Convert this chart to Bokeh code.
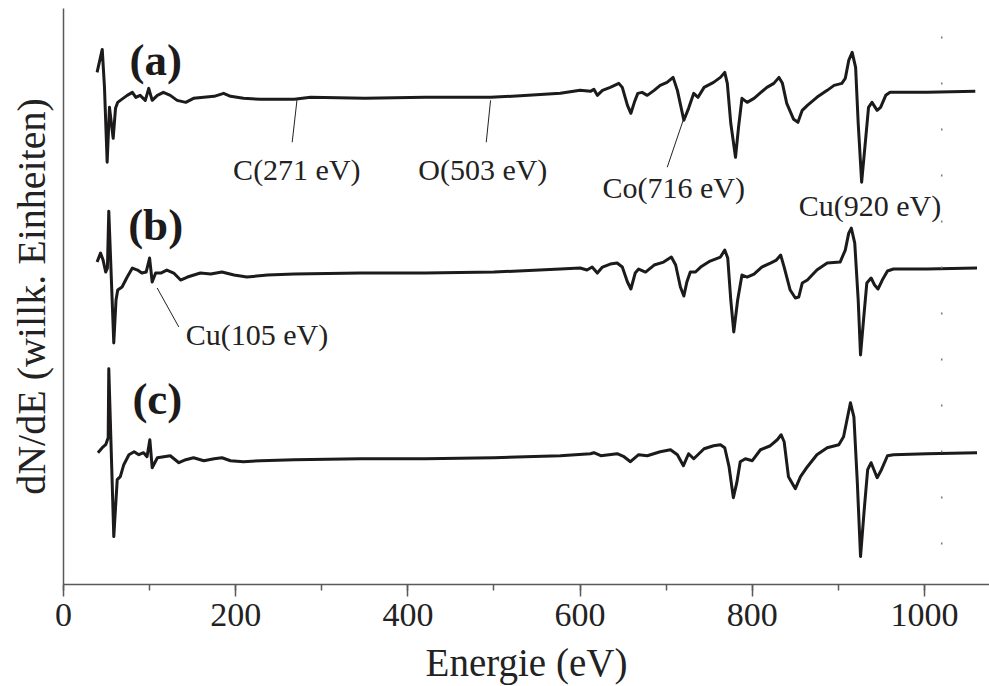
from bokeh.plotting import figure
from bokeh.models import Range1d, SingleIntervalTicker, FixedTicker, Label, Span
from bokeh.core.properties import value
from bokeh.embed import file_html
from bokeh.resources import INLINE

# ---- data (energy in eV, signal in arbitrary units incl. vertical offset) ----
x_a = [39, 45, 47.6, 50.7, 53.4, 57.7, 60.4, 63, 66, 74, 80, 84, 89, 95, 99, 103, 109, 116, 124, 132,
       142, 151, 163, 175, 186, 194, 209, 229, 268, 287, 350, 420, 496, 540, 577, 600, 612, 616, 620, 626,
       635, 645, 649, 655, 659, 663, 667, 672, 678, 686, 693, 701, 708, 713, 720.5, 726, 732, 737, 744, 755,
       763, 768, 771, 775, 780.5, 784, 788, 794, 802, 810, 817, 825, 831, 835, 840, 848, 853, 858, 864, 875,
       887, 895, 904, 908, 912, 916, 920, 923, 927, 931.5, 935, 939, 945, 949, 955, 960, 1003, 1059]
y_a = [513, 536, 498, 423, 478, 447, 477, 483, 485, 490, 493, 488, 490, 485, 497, 485, 490, 493, 490, 485,
       483, 487, 488, 489, 492, 489, 487, 486, 486, 488, 487, 488, 488, 490, 492, 495, 494, 496, 490, 495,
       498, 502, 498, 480, 472, 483, 492, 493, 490, 495, 500, 503, 508, 495, 465, 477, 492, 488, 498, 503,
       508, 513, 502, 462, 428, 458, 487, 483, 487, 493, 498, 502, 508, 502, 482, 466, 463, 475, 480, 488,
       495, 500, 502, 507, 525, 533, 518, 462, 403, 445, 478, 483, 475, 478, 490, 493, 493, 494]

x_b = [39, 43, 46, 49, 51, 52.6, 58.4, 61, 63, 68, 74, 80, 86, 91, 96, 100, 103, 107, 113, 120,
       128, 136, 144, 159, 171, 184, 198, 213, 237, 268, 345, 420, 500, 577, 600, 608, 614, 620, 626, 635,
       643, 649, 655, 659, 664, 668, 676, 686, 697, 706, 711, 716.5, 720.5, 724, 728, 734, 740, 751, 763, 768,
       771.5, 775, 778.5, 783, 788, 794, 802, 811, 821, 828, 833, 837, 844, 850, 854, 858, 864, 875, 887, 902,
       908, 912, 915, 919, 923, 925.7, 929.5, 933, 938, 942, 946, 951, 957, 964, 1003, 1061]
y_b = [323, 332, 325, 313, 317, 374, 242, 285, 295, 298, 308, 317, 315, 312, 313, 327, 303, 312, 312, 315,
       312, 305, 308, 312, 311, 313, 310, 308, 310, 311, 312, 312, 313, 316, 317, 315, 318, 312, 318, 321,
       322, 318, 303, 296, 312, 316, 313, 320, 323, 328, 320, 298, 289, 303, 313, 313, 318, 324, 328, 335,
       327, 285, 253, 285, 310, 308, 311, 318, 322, 325, 330, 318, 295, 287, 288, 302, 305, 315, 322, 323,
       335, 352, 357, 342, 285, 230, 268, 302, 307, 300, 296, 305, 314, 316, 316, 317]

x_c = [40, 43, 45, 49, 51.9, 52.6, 58.4, 62.4, 66, 70, 76, 82, 87.5, 93, 97, 100.3, 103, 109, 116.5, 124,
       134, 142, 151, 163, 175, 184, 194, 209, 229, 268, 345, 420, 500, 577, 612, 616, 624, 643, 651, 658.5,
       668, 678, 693, 705, 713, 720, 726, 732, 744, 755, 763, 768, 773, 778, 782, 786, 792, 800, 809.5, 821,
       829, 833.5, 837, 842, 850, 856, 864, 875, 887, 900.5, 906, 910, 914, 918, 922, 925.7, 930, 934, 938, 945,
       950, 957, 964, 1003, 1061]
y_c = [132, 135, 137, 140, 147, 216, 48, 105, 108, 120, 130, 133, 130, 132, 128, 145, 117, 127, 128, 129,
       122, 125, 127, 124, 126, 127, 124, 123, 124, 125, 126, 126, 127, 129, 131, 132, 129, 131, 128, 123,
       130, 129, 133, 135, 130, 119, 131, 126, 136, 139, 140, 137, 118, 87, 102, 123, 126, 124, 135, 139,
       145, 150, 143, 108, 96, 108, 118, 130, 137, 140, 148, 165, 182, 168, 102, 28, 75, 115, 122, 107,
       115, 129, 130, 131, 132]

x_ticks = [0, 200, 400, 600, 800, 1000]

panel_labels = ["(a)", "(b)", "(c)"]
panel_x = [107, 107, 109]
panel_y = [525, 360, 186]

peak_labels = ["C(271 eV)", "O(503 eV)", "Co(716 eV)", "Cu(920 eV)", "Cu(105 eV)"]
peak_label_x = [197, 412, 626, 854, 142]
peak_label_y = [416, 416, 398, 380, 250]
leader_x0 = [271.4, 496, 719.7, 108.8]
leader_y0 = [487, 485, 465, 297]
leader_x1 = [265.6, 491, 701.2, 133.9]
leader_y1 = [443, 443, 418, 258]

ref_energy = 1020

FONT = "Liberation Serif"
AXIS_COLOR = "#5a5a5a"
LINE_COLOR = "#1c1a1a"

p = figure(width=989, height=686, output_backend="svg", toolbar_location=None,
           x_range=Range1d(0, 1075.5), y_range=Range1d(0, 577),
           min_border_left=63, min_border_right=0, min_border_top=8, min_border_bottom=101,
           x_axis_location="below", y_axis_location="left")
p.outline_line_color = None
p.xgrid.visible = False
p.ygrid.visible = False
p.background_fill_color = "white"
p.border_fill_color = "white"

xa = p.xaxis[0]
xa.ticker = SingleIntervalTicker(interval=200, num_minor_ticks=2)
xa.axis_line_color = AXIS_COLOR
xa.axis_line_width = 1.5
xa.major_tick_line_color = AXIS_COLOR
xa.major_tick_line_width = 1.5
xa.major_tick_out = 12
xa.major_tick_in = 0
xa.minor_tick_line_color = AXIS_COLOR
xa.minor_tick_line_width = 1.5
xa.minor_tick_out = 6
xa.minor_tick_in = 0
xa.major_label_text_font = FONT
xa.major_label_text_font_size = "34px"
xa.major_label_text_color = "#222222"
xa.major_label_standoff = 7
xa.axis_label = "Energie (eV)"
xa.axis_label_text_font = FONT
xa.axis_label_text_font_size = "39px"
xa.axis_label_text_font_style = "normal"
xa.axis_label_text_color = "#222222"
xa.axis_label_standoff = 12

ya = p.yaxis[0]
ya.ticker = FixedTicker(ticks=[])
ya.axis_line_color = AXIS_COLOR
ya.axis_line_width = 1.5
ya.major_tick_line_color = None
ya.minor_tick_line_color = None
ya.major_label_text_font_size = "0px"
ya.axis_label = "dN/dE (willk. Einheiten)"
ya.axis_label_text_font = FONT
ya.axis_label_text_font_size = "40px"
ya.axis_label_text_font_style = "normal"
ya.axis_label_text_color = "#222222"
ya.axis_label_standoff = 10

p.add_layout(Span(location=ref_energy, dimension="height", line_color="#777777",
                  line_width=1.5, line_dash="2 44", line_dash_offset=18))

for xs, ys in ((x_a, y_a), (x_b, y_b), (x_c, y_c)):
    p.line(xs, ys, line_color=LINE_COLOR, line_width=3, line_join="round")

p.segment(x0=leader_x0, y0=leader_y0, x1=leader_x1, y1=leader_y1,
          line_color="#222222", line_width=1)

for t, x, y in zip(panel_labels, panel_x, panel_y):
    p.add_layout(Label(x=x, y=y, text=t, text_font=FONT, text_font_size="45px",
                       text_font_style="bold", text_align="center", text_baseline="middle",
                       text_color="#1c1a1a"))

for t, x, y in zip(peak_labels, peak_label_x, peak_label_y):
    p.add_layout(Label(x=x, y=y, text=t, text_font=FONT, text_font_size="30px",
                       text_align="left", text_baseline="middle", text_color="#222222"))

open("out.html", "w").write(file_html(p, INLINE))
